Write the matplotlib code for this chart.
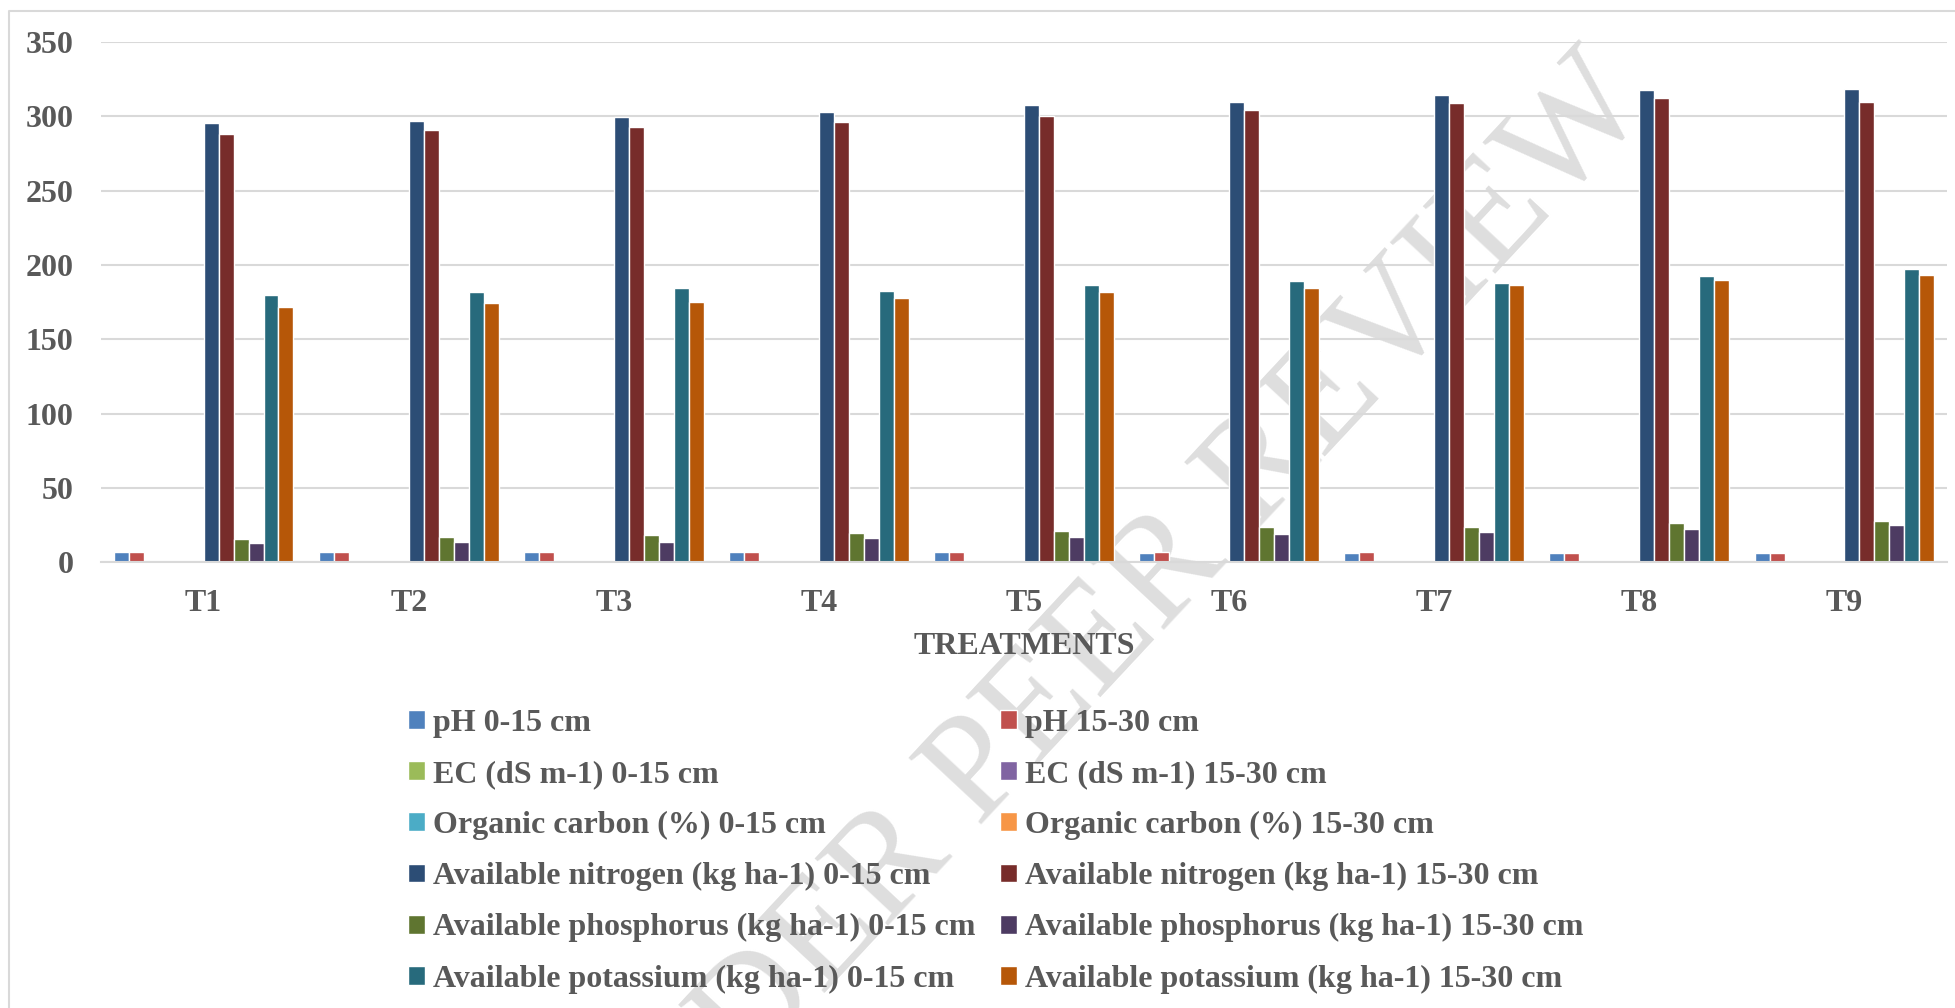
import numpy as np
import matplotlib
matplotlib.use("Agg")
import matplotlib.pyplot as plt

plt.rcParams['font.family'] = ['Liberation Serif', 'DejaVu Serif']
plt.rcParams['font.weight'] = 'bold'

# treatments
treatments = ['T1', 'T2', 'T3', 'T4', 'T5', 'T6', 'T7', 'T8', 'T9']

# soil properties
ph_0_15 = [7.0, 7.0, 7.0, 7.0, 6.9, 6.4, 6.4, 6.4, 6.4]
ph_15_30 = [7.1, 7.1, 7.1, 7.1, 7.0, 7.0, 6.9, 6.5, 6.5]
ec_0_15 = [0.32, 0.31, 0.31, 0.30, 0.30, 0.29, 0.29, 0.28, 0.28]
ec_15_30 = [0.30, 0.30, 0.29, 0.29, 0.28, 0.28, 0.27, 0.27, 0.26]
oc_0_15 = [0.48, 0.50, 0.52, 0.53, 0.55, 0.57, 0.58, 0.60, 0.62]
oc_15_30 = [0.42, 0.44, 0.45, 0.46, 0.48, 0.50, 0.51, 0.53, 0.55]
n_0_15 = [295.7, 297.0, 299.8, 302.7, 307.8, 309.9, 314.5, 317.8, 318.3]
n_15_30 = [288.2, 290.8, 293.0, 296.4, 300.4, 304.5, 309.1, 312.4, 309.6]
p_0_15 = [15.7, 17.2, 18.6, 19.9, 21.3, 23.6, 23.7, 26.2, 27.5]
p_15_30 = [12.9, 13.9, 13.6, 16.3, 17.0, 19.1, 20.1, 22.1, 25.2]
k_0_15 = [179.9, 181.9, 184.8, 182.8, 186.8, 189.5, 187.9, 192.7, 197.4]
k_15_30 = [171.9, 174.2, 175.3, 178.1, 181.7, 184.4, 186.6, 190.2, 193.3]

series = [
    ('pH 0-15 cm', ph_0_15, '#4F81BD'),
    ('pH 15-30 cm', ph_15_30, '#C0504D'),
    ('EC (dS m-1) 0-15 cm', ec_0_15, '#9BBB59'),
    ('EC (dS m-1) 15-30 cm', ec_15_30, '#8064A2'),
    ('Organic carbon (%) 0-15 cm', oc_0_15, '#4BACC6'),
    ('Organic carbon (%) 15-30 cm', oc_15_30, '#F79646'),
    ('Available nitrogen (kg ha-1) 0-15 cm', n_0_15, '#2C4D75'),
    ('Available nitrogen (kg ha-1) 15-30 cm', n_15_30, '#772C2A'),
    ('Available phosphorus (kg ha-1) 0-15 cm', p_0_15, '#5F7530'),
    ('Available phosphorus (kg ha-1) 15-30 cm', p_15_30, '#4D3B62'),
    ('Available potassium (kg ha-1) 0-15 cm', k_0_15, '#276A7C'),
    ('Available potassium (kg ha-1) 15-30 cm', k_15_30, '#B65708'),
]

text_col = '#595959'
grid_col = '#D9D9D9'

fig = plt.figure(figsize=(19.55, 10.08), dpi=100)
ax = fig.add_axes([0.0517, 0.4422, 0.9442, 0.5160])
ax.set_facecolor('none')

x = np.arange(len(treatments))
slot = 0.073
bars = []
for i, (name, vals, col) in enumerate(series):
    b = ax.bar(x + (i - 5.5) * slot, vals, width=slot, color=col,
               edgecolor='white', linewidth=1.0, label=name)
    bars.append(b)

ax.set_xlim(-0.5, len(treatments) - 0.5)
ax.set_ylim(0, 350)
ax.set_yticks(np.arange(0, 351, 50))
ax.set_xticks(x)
ax.set_xticklabels(treatments)
ax.tick_params(axis='both', length=0, labelsize=23, labelcolor=text_col)
ax.tick_params(axis='y', pad=20)
ax.tick_params(axis='x', pad=19)
ax.grid(axis='y', color=grid_col, linewidth=1.5)
ax.set_axisbelow(True)
for s in ['top', 'right', 'left']:
    ax.spines[s].set_visible(False)
ax.spines['bottom'].set_color(grid_col)
ax.spines['bottom'].set_linewidth(1.5)

ax.set_xlabel('TREATMENTS', fontsize=23, fontweight='bold', color=text_col, va='center')
ax.xaxis.set_label_coords(0.5, (562.3 - 647) / 520.2)

# legend: 0-15 cm in left column, 15-30 cm in right column
order = list(range(0, 12, 2)) + list(range(1, 12, 2))
fig.legend([bars[i] for i in order], [series[i][0] for i in order],
           ncol=2, loc='upper left', bbox_to_anchor=(408 / 1955, 1 - 709 / 1008),
           frameon=False, fontsize=23, labelcolor=text_col,
           handlelength=0.53, handleheight=0.53, handletextpad=0.25,
           columnspacing=0.78, labelspacing=0.69, borderpad=0, borderaxespad=0)

# chart frame (only top and left edges fall inside the picture)
fig.add_artist(plt.Line2D([9 / 1955, 9 / 1955, 1.0], [0.0, 1 - 11 / 1008, 1 - 11 / 1008],
                          transform=fig.transFigure, color=grid_col, linewidth=1.5))

# watermark
fig.text(1100 / 1955, 1 - 645 / 1008, 'UNDER PEER REVIEW', rotation=47,
         rotation_mode='anchor', ha='center', va='center', fontsize=108,
         fontweight='normal', color='#DEDEDE', zorder=-10)

fig.savefig('out.png', dpi=100, facecolor='white')
